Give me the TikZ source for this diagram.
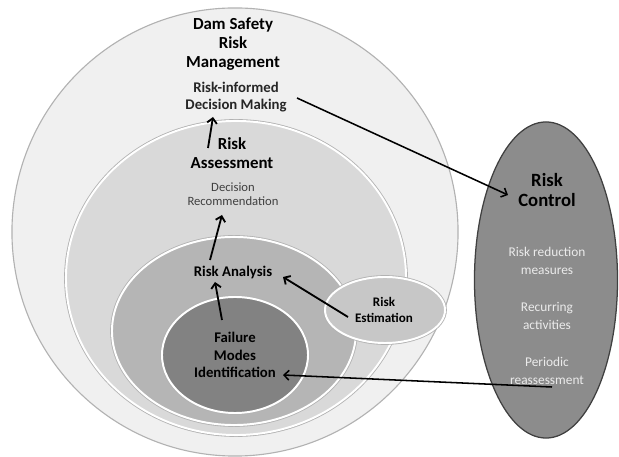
\documentclass[tikz,border=0pt]{standalone}
\usepackage{fontspec}
\setmainfont{Carlito}
\usepackage{tikz}
\usetikzlibrary{calc}
\usetikzlibrary{shapes.geometric}
\usetikzlibrary{arrows.meta}
\definecolor{outerfill}{gray}{0.94}
\definecolor{outerline}{gray}{0.70}
\definecolor{assessfill}{gray}{0.85}
\definecolor{analysisfill}{gray}{0.71}
\definecolor{failurefill}{gray}{0.51}
\definecolor{estimfill}{gray}{0.78}
\definecolor{controlfill}{gray}{0.55}
\definecolor{controlline}{gray}{0.25}
\definecolor{softtext}{gray}{0.92}
\tikzset{
zone/.style={ellipse,draw=white,line width=1.4pt,inner sep=0cm,preaction={draw=black!30,line width=2.6pt}},
outer-zone/.style={ellipse,draw=outerline,line width=0.8pt,fill=outerfill,inner sep=0cm},
control-zone/.style={ellipse,draw=controlline,line width=0.9pt,fill=controlfill,inner sep=0cm},
big-label/.style={align=center,inner sep=1pt,font=\fontsize{12}{13.8}\selectfont\bfseries},
mid-label/.style={align=center,inner sep=1pt,font=\fontsize{10.5}{12.2}\selectfont\bfseries},
small-label/.style={align=center,inner sep=1pt,font=\fontsize{9}{10}\selectfont,text=black!75},
item-label/.style={align=center,inner sep=1pt,font=\fontsize{9.5}{12.8}\selectfont,text=softtext},
flow/.style={-{Straight Barb[length=3.5pt,width=7pt]},line width=1.3pt,black}
}
\begin{document}
\begin{tikzpicture}[x=0.025cm,y=-0.025cm]
    \useasboundingbox (0,0) rectangle (619,457);
    {
      % nested zones
      \node[outer-zone, minimum width=11.15cm, minimum height=11.2cm](dsrm-zone) at (235,232) {};
      \node[zone, fill=assessfill, minimum width=8.5cm, minimum height=7.85cm](ras-zone) at (236,278) {};
      \node[zone, fill=analysisfill, minimum width=6.1cm, minimum height=4.7cm](ran-zone) at (234,331) {};
      \node[zone, fill=failurefill, minimum width=3.65cm, minimum height=2.9cm](fmi-zone) at (235,355) {};
      \node[zone, fill=estimfill, minimum width=3.0cm, minimum height=1.65cm](res-zone) at (385,310) {};
      \node[control-zone, minimum width=3.575cm, minimum height=7.9cm](rc-zone) at (546,280) {};
      %
      \node[big-label](dsrm) at (233,44) {Dam Safety\\Risk\\Management};
      \node[mid-label, text=black!85](rim) at (236,97) {Risk-informed\\Decision Making};
      \node[big-label](ras) at (232,153) {Risk\\Assessment};
      \node[small-label](dr) at (233,194) {Decision\\Recommendation};
      \node[mid-label](ran) at (233,272) {Risk Analysis};
      \node[mid-label, font=\fontsize{10.5}{12.3}\selectfont\bfseries](fmi) at (235,355) {Failure\\Modes\\Identification};
      \node[mid-label, font=\fontsize{9.3}{11.4}\selectfont\bfseries](res) at (384,310) {Risk\\Estimation};
      \node[big-label, font=\fontsize{13.3}{14.5}\selectfont\bfseries](rc) at (547,190) {Risk\\Control};
      \node[item-label](rrm) at (547,261) {Risk reduction\\measures};
      \node[item-label](rca) at (547,316) {Recurring\\activities};
      \node[item-label](pra) at (547,371) {Periodic\\reassessment};
      %
      \draw[flow] ($(ras)+(-24,-5)$) -- ($(rim)+(-23,20)$);
      \draw[flow] ($(ran)+(-23,-12)$) -- ($(dr)+(-11,21)$);
      \draw[flow] ($(fmi)+(-13,-35)$) -- ($(ran)+(-18,10)$);
      \draw[flow] ($(res)+(-36,7)$) -- ($(ran)+(50,5)$);
      \draw[flow, line width=1.1pt] ($(rim)+(61,1)$) -- ($(rc)+(-39,5)$);
      \draw[flow, line width=1.1pt] ($(pra)+(5,16)$) -- ($(fmi)+(48,20)$);
    }
\end{tikzpicture}
\end{document}
